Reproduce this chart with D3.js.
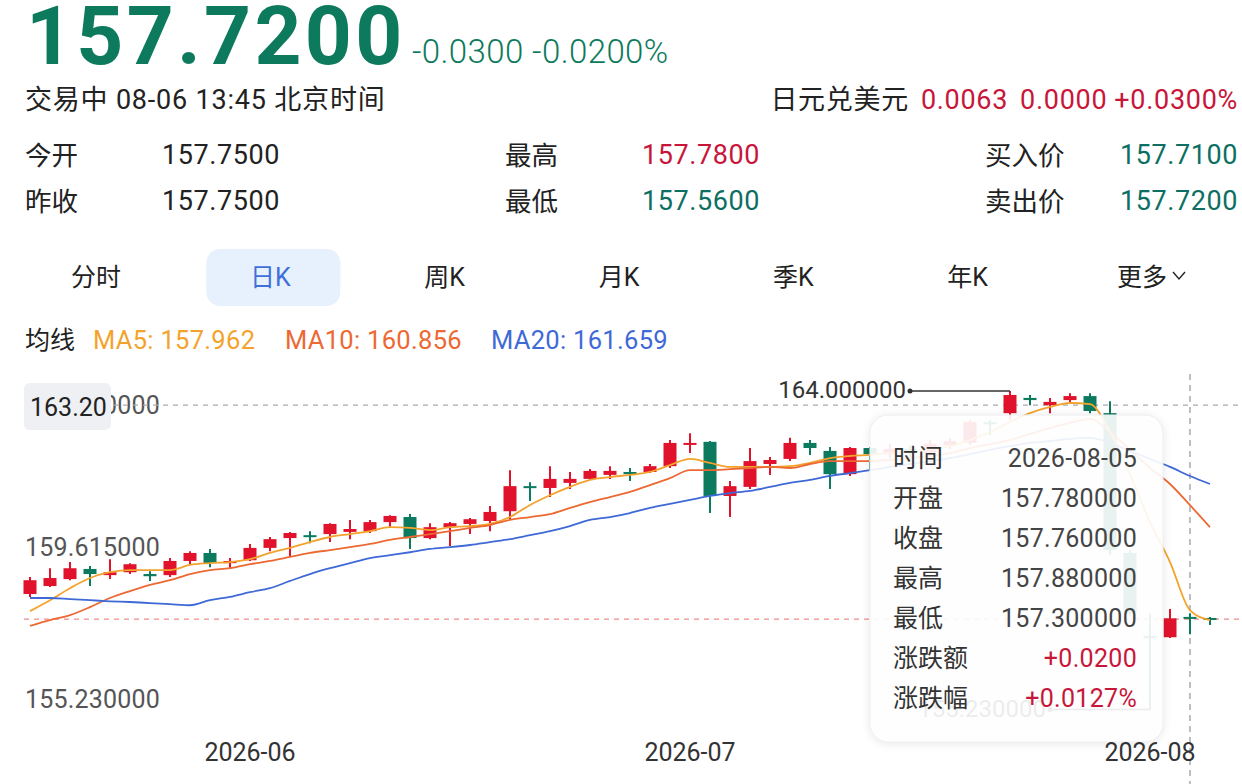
<!DOCTYPE html>
<html>
<head>
<meta charset="utf-8">
<script src="https://cdn.jsdelivr.net/npm/d3@7"></script>
<style>
  html, body { margin: 0; padding: 0; background: #fff; }
  svg text { font-family: Roboto, "Noto Sans CJK SC", sans-serif; }
</style>
</head>
<body>
<div id="chart"></div>
<script>
// daily candles
const dates = [
  "2026-05-15", "2026-05-18", "2026-05-19", "2026-05-20", "2026-05-21", "2026-05-22",
  "2026-05-25", "2026-05-26", "2026-05-27", "2026-05-28", "2026-05-29",
  "2026-06-01", "2026-06-02", "2026-06-03", "2026-06-04", "2026-06-05",
  "2026-06-08", "2026-06-09", "2026-06-10", "2026-06-11", "2026-06-12",
  "2026-06-15", "2026-06-16", "2026-06-17", "2026-06-18", "2026-06-19",
  "2026-06-22", "2026-06-23", "2026-06-24", "2026-06-25", "2026-06-26",
  "2026-06-29", "2026-06-30",
  "2026-07-01", "2026-07-02", "2026-07-03",
  "2026-07-06", "2026-07-07", "2026-07-08", "2026-07-09", "2026-07-10",
  "2026-07-13", "2026-07-14", "2026-07-15", "2026-07-16", "2026-07-17",
  "2026-07-20", "2026-07-21", "2026-07-22", "2026-07-23", "2026-07-24",
  "2026-07-27", "2026-07-28", "2026-07-29", "2026-07-30", "2026-07-31",
  "2026-08-03", "2026-08-04", "2026-08-05", "2026-08-06"
];
const opens = [
  158.41, 158.63, 158.82, 159.10, 158.93, 159.01, 158.96, 158.93, 159.32, 159.54,
  159.26, 159.34, 159.68, 159.95, 160.03, 160.06, 160.12, 160.14, 160.39, 160.53,
  159.95, 160.25, 160.34, 160.42, 160.69, 161.38, 161.33, 161.47, 161.58, 161.69,
  161.77, 161.77, 161.93, 162.54, 162.60, 161.11, 161.36, 161.99, 162.13, 162.57,
  162.35, 161.71, 162.43, 162.26, 162.40, 162.30, 162.50, 162.57, 163.14, 163.39,
  163.81, 163.61, 163.75, 163.86, 163.39, 159.54, 157.25, 157.22, 157.78, 157.75
];
const highs = [
  158.88, 159.12, 159.29, 159.18, 159.37, 159.26, 159.04, 159.40, 159.59, 159.65,
  159.40, 159.79, 159.98, 160.12, 160.14, 160.36, 160.45, 160.45, 160.58, 160.61,
  160.36, 160.39, 160.50, 160.83, 161.82, 161.49, 161.93, 161.77, 161.85, 161.93,
  161.88, 161.99, 162.65, 162.84, 162.62, 161.52, 162.43, 162.18, 162.71, 162.65,
  162.46, 162.46, 162.46, 162.55, 162.50, 162.65, 162.70, 163.20, 163.20, 164.00,
  163.89, 163.81, 163.94, 163.94, 163.72, 159.62, 157.88, 158.00, 157.88, 157.78
];
const lows = [
  158.33, 158.60, 158.79, 158.63, 158.82, 158.96, 158.77, 158.88, 159.23, 159.15,
  159.12, 159.32, 159.59, 159.43, 159.81, 159.84, 159.92, 160.09, 160.25, 159.65,
  159.92, 159.73, 160.06, 160.14, 160.47, 160.97, 161.08, 161.30, 161.55, 161.58,
  161.52, 161.74, 161.88, 162.29, 160.64, 160.53, 161.30, 161.69, 162.07, 162.24,
  161.30, 161.66, 161.82, 162.15, 162.10, 162.25, 162.40, 162.52, 162.79, 163.20,
  163.61, 163.39, 163.70, 163.39, 159.48, 157.82, 155.23, 157.20, 157.30, 157.56
];
const closes = [
  158.79, 158.85, 159.12, 158.96, 159.01, 159.23, 158.90, 159.32, 159.54, 159.26,
  159.32, 159.68, 159.92, 160.09, 159.98, 160.34, 160.20, 160.39, 160.56, 159.95,
  160.25, 160.36, 160.47, 160.67, 161.38, 161.33, 161.58, 161.58, 161.80, 161.80,
  161.71, 161.93, 162.57, 162.57, 161.11, 161.38, 162.07, 162.10, 162.57, 162.43,
  161.71, 162.43, 162.26, 162.40, 162.30, 162.55, 162.62, 163.15, 163.10, 163.89,
  163.75, 163.70, 163.86, 163.45, 159.62, 157.88, 157.20, 157.74, 157.76, 157.72
];

// moving averages as drawn in the picture
const ma5Values = [
  157.94, 158.24, 158.57, 158.85, 159.01, 159.07, 159.07, 159.07, 159.21, 159.26,
  159.29, 159.37, 159.54, 159.68, 159.84, 159.98, 160.06, 160.14, 160.25, 160.23,
  160.17, 160.25, 160.28, 160.34, 160.53, 160.86, 161.13, 161.36, 161.55, 161.63,
  161.69, 161.77, 161.96, 162.13, 162.02, 161.91, 161.91, 161.91, 161.93, 162.02,
  162.15, 162.21, 162.24, 162.29, 162.32, 162.40, 162.48, 162.65, 162.87, 163.15,
  163.39, 163.56, 163.67, 163.64, 162.87, 161.71, 160.39, 159.29, 157.962, 157.69
];
const ma10Values = [
  157.53, 157.69, 157.83, 158.05, 158.30, 158.49, 158.66, 158.79, 158.96, 159.07,
  159.12, 159.23, 159.32, 159.43, 159.54, 159.62, 159.70, 159.79, 159.90, 159.98,
  160.06, 160.14, 160.23, 160.31, 160.45, 160.53, 160.61, 160.78, 160.94, 161.08,
  161.22, 161.41, 161.60, 161.82, 161.82, 161.85, 161.88, 161.91, 161.88, 161.99,
  162.07, 162.07, 162.07, 162.10, 162.15, 162.21, 162.29, 162.43, 162.54, 162.65,
  162.82, 162.98, 163.12, 163.23, 162.87, 162.38, 161.88, 161.44, 160.856, 160.25
];
const ma20Values = [
  158.30, 158.30, 158.27, 158.24, 158.21, 158.19, 158.16, 158.13, 158.10, 158.24,
  158.33, 158.46, 158.57, 158.77, 158.96, 159.12, 159.26, 159.40, 159.48, 159.56,
  159.65, 159.70, 159.76, 159.84, 159.92, 160.03, 160.14, 160.28, 160.45, 160.53,
  160.64, 160.78, 160.89, 161.00, 161.11, 161.19, 161.25, 161.36, 161.47, 161.55,
  161.66, 161.74, 161.82, 161.91, 161.99, 162.07, 162.15, 162.26, 162.38, 162.48,
  162.57, 162.62, 162.68, 162.71, 162.57, 162.35, 162.13, 161.91, 161.659, 161.44
];

// quote header
const lastPrice = "157.7200";
const changeTexts = ["-0.0300", "-0.0200%"];
const statusText = "交易中 08-06 13:45 北京时间";
const inverseName = "日元兑美元";
const inverseTexts = ["0.0063", "0.0000", "+0.0300%"];
const quoteLabels = [["今开", "最高", "买入价"], ["昨收", "最低", "卖出价"]];
const quoteValues = [["157.7500", "157.7800", "157.7100"], ["157.7500", "157.5600", "157.7200"]];
const quoteTones = [["plain", "up", "down"], ["plain", "down", "down"]];

const tabNames = ["分时", "日K", "周K", "月K", "季K", "年K", "更多"];
const activeTab = "日K";

const maNames = ["MA5", "MA10", "MA20"];
const yTickValues = [164, 159.615, 155.23];
const monthTicks = ["2026-06-01", "2026-07-01", "2026-08-03"];
const monthLabels = ["2026-06", "2026-07", "2026-08"];

// crosshair as captured in the screenshot
const crosshairDate = "2026-08-05";
const crosshairPrice = 163.61;
const crosshairLabel = "163.20";
const tooltipLabels = ["时间", "开盘", "收盘", "最高", "最低", "涨跌额", "涨跌幅"];

const candles = dates.map((d, i) => ({
  date: d, open: opens[i], high: highs[i], low: lows[i], close: closes[i],
  ma5: ma5Values[i], ma10: ma10Values[i], ma20: ma20Values[i]
}));

class KLineChart {
  constructor(_config, _data) {
    this.config = {
      parentElement: _config.parentElement,
      width: _config.width || 1242,
      height: _config.height || 784,
      plot: _config.plot || { left: 20, right: 1220, top: 391, bottom: 709.5 },
    };
    this.data = _data;
    this.colors = {
      up: "#e0122c", down: "#0b7a5e", upText: "#c8163a", downText: "#0d6f63",
      ma: { MA5: "#f3a32c", MA10: "#ec6933", MA20: "#3f69d6" },
      text: "#222", axis: "#555",
    };
    this.initVis();
  }

  initVis() {
    let vis = this;
    const p = vis.config.plot;

    vis.svg = d3.select(vis.config.parentElement)
      .append("svg")
      .attr("width", vis.config.width)
      .attr("height", vis.config.height);

    const defs = vis.svg.append("defs");
    const shadow = defs.append("filter").attr("id", "tipShadow")
      .attr("x", "-10%").attr("y", "-10%").attr("width", "120%").attr("height", "120%");
    shadow.append("feDropShadow").attr("dx", 0).attr("dy", 1).attr("stdDeviation", 4)
      .attr("flood-color", "#000").attr("flood-opacity", 0.10);

    vis.xScale = d3.scaleBand()
      .domain(vis.data.map((d) => d.date))
      .range([p.left, p.right])
      .paddingInner(0.35)
      .paddingOuter(0.175);
    vis.yScale = d3.scaleLinear().domain([155.23, 164]).range([p.bottom, p.top]);
    vis.xMid = (d) => vis.xScale(d) + vis.xScale.bandwidth() / 2;

    vis.header = vis.svg.append("g");
    vis.chart = vis.svg.append("g");
    vis.overlay = vis.svg.append("g");

    vis.renderHeader();
    vis.updateVis();
  }

  renderHeader() {
    let vis = this;
    const g = vis.header;
    const c = vis.colors;

    g.append("text").attr("x", 26).attr("y", 64)
      .attr("font-size", 82).attr("font-weight", 700).attr("letter-spacing", 3.3)
      .attr("fill", "#0d7a5d")
      .text(lastPrice);
    g.append("text").attr("x", 412).attr("y", 63)
      .attr("font-size", 33).attr("font-weight", 300).attr("letter-spacing", 0.4)
      .attr("fill", "#0d7a5d")
      .text(changeTexts.join(" "));

    g.append("text").attr("x", 25).attr("y", 100).attr("dominant-baseline", "central")
      .attr("font-size", 27).attr("letter-spacing", 0.8).attr("fill", c.text).text(statusText);

    const inv = g.append("text").attr("x", 1238).attr("y", 100)
      .attr("text-anchor", "end").attr("dominant-baseline", "central")
      .attr("font-size", 27).attr("letter-spacing", 0.7);
    inv.append("tspan").attr("fill", c.text).text(inverseName);
    inverseTexts.forEach((t, i) => {
      inv.append("tspan").attr("dx", i === 2 ? 7 : 12).attr("fill", c.upText).text(t);
    });

    const labelX = [25, 505, 985];
    const valueX = [162, 642, 1120];
    const rowY = [155, 201];
    quoteLabels.forEach((row, r) => {
      row.forEach((lab, k) => {
        g.append("text").attr("x", labelX[k]).attr("y", rowY[r]).attr("dominant-baseline", "central")
          .attr("font-size", 26.5).attr("fill", c.text).text(lab);
        const tone = quoteTones[r][k];
        g.append("text").attr("x", valueX[k]).attr("y", rowY[r]).attr("dominant-baseline", "central")
          .attr("font-size", 27).attr("letter-spacing", 0.6)
          .attr("fill", tone === "up" ? c.upText : tone === "down" ? c.downText : c.text)
          .text(quoteValues[r][k]);
      });
    });

    // period tabs
    const tabX = d3.scalePoint().domain(tabNames).range([96, 1142]);
    g.append("rect").attr("x", tabX(activeTab) - 64).attr("y", 249)
      .attr("width", 134).attr("height", 57).attr("rx", 14).attr("fill", "#e7f0fd");
    g.selectAll(".tab").data(tabNames).join("text")
      .attr("class", "tab")
      .attr("x", (d) => tabX(d)).attr("y", 277)
      .attr("text-anchor", "middle").attr("dominant-baseline", "central")
      .attr("font-size", 25)
      .attr("fill", (d) => (d === activeTab ? "#3f6fd8" : c.text))
      .text((d) => d);
    const lastX = tabX(tabNames[tabNames.length - 1]);
    g.append("path")
      .attr("d", `M${lastX + 31},${272} L${lastX + 37},${279} L${lastX + 43},${272}`)
      .attr("fill", "none").attr("stroke", c.text).attr("stroke-width", 1.4);

    // moving-average legend
    const last = vis.data.find((d) => d.date === crosshairDate);
    const legendX = [93, 285, 491];
    g.append("text").attr("x", 25).attr("y", 340).attr("dominant-baseline", "central")
      .attr("font-size", 25).attr("fill", c.text).text("均线");
    maNames.forEach((m, i) => {
      const key = m.toLowerCase();
      g.append("text").attr("x", legendX[i]).attr("y", 340).attr("dominant-baseline", "central")
        .attr("font-size", 25.5).attr("letter-spacing", 0.3).attr("fill", c.ma[m])
        .text(`${m}: ${d3.format(".3f")(last[key])}`);
    });
  }

  updateVis() {
    let vis = this;
    const c = vis.colors;
    const y = vis.yScale;
    const fmt6 = d3.format(".6f");

    // y labels
    vis.chart.selectAll(".ylab").data(yTickValues).join("text")
      .attr("class", "ylab")
      .attr("x", 25)
      .attr("y", (d, i) => (i === 0 ? y(d) + 5 : i === 1 ? y(d) - 3 : y(d) - 2))
      .attr("dominant-baseline", (d, i) => (i === 0 ? "hanging" : i === 1 ? "central" : "auto"))
      .attr("font-size", 25).attr("letter-spacing", 0.2).attr("fill", c.axis)
      .text((d) => fmt6(d));

    // last price line
    const lastClose = vis.data[vis.data.length - 1].close;
    vis.chart.append("line")
      .attr("x1", 24).attr("x2", vis.config.width)
      .attr("y1", y(lastClose)).attr("y2", y(lastClose))
      .attr("stroke", "#f08c8c").attr("stroke-width", 1.3).attr("stroke-dasharray", "5,5");

    // crosshair
    const cx = vis.xMid(crosshairDate);
    vis.chart.append("line")
      .attr("x1", 113).attr("x2", vis.config.width)
      .attr("y1", y(crosshairPrice)).attr("y2", y(crosshairPrice))
      .attr("stroke", "#a9a9b0").attr("stroke-width", 1.3).attr("stroke-dasharray", "5,5");
    vis.chart.append("line")
      .attr("x1", cx).attr("x2", cx)
      .attr("y1", 374).attr("y2", vis.config.height)
      .attr("stroke", "#a9a9b0").attr("stroke-width", 1.5).attr("stroke-dasharray", "6,5");

    // candles
    const bw = vis.xScale.bandwidth();
    const candle = vis.chart.selectAll(".candle").data(vis.data).join("g").attr("class", "candle");
    candle.append("line")
      .attr("x1", (d) => vis.xMid(d.date)).attr("x2", (d) => vis.xMid(d.date))
      .attr("y1", (d) => y(d.high)).attr("y2", (d) => y(d.low))
      .attr("stroke", (d) => (d.close >= d.open ? c.up : c.down)).attr("stroke-width", 2);
    candle.append("rect")
      .attr("x", (d) => vis.xScale(d.date))
      .attr("width", bw)
      .attr("y", (d) => y(Math.max(d.open, d.close)))
      .attr("height", (d) => Math.max(2, Math.abs(y(d.open) - y(d.close))))
      .attr("fill", (d) => (d.close >= d.open ? c.up : c.down));

    // moving averages
    maNames.forEach((m) => {
      const key = m.toLowerCase();
      vis.chart.append("path")
        .datum(vis.data)
        .attr("fill", "none")
        .attr("stroke", c.ma[m])
        .attr("stroke-width", 1.8)
        .attr("d", d3.line().curve(d3.curveMonotoneX)
          .x((d) => vis.xMid(d.date)).y((d) => y(d[key])));
    });

    // max / min markers
    const maxD = vis.data[d3.maxIndex(vis.data, (d) => d.high)];
    const minD = vis.data[d3.minIndex(vis.data, (d) => d.low)];
    [[maxD, maxD.high], [minD, minD.low]].forEach(([d, v]) => {
      const x1 = vis.xMid(d.date);
      const x0 = x1 - 100;
      vis.chart.append("line").attr("x1", x0).attr("x2", x1).attr("y1", y(v)).attr("y2", y(v))
        .attr("stroke", "#333").attr("stroke-width", 1.3);
      vis.chart.append("circle").attr("cx", x0).attr("cy", y(v)).attr("r", 2.5).attr("fill", "#333");
      vis.chart.append("text").attr("x", x0 - 4).attr("y", y(v) - 1)
        .attr("text-anchor", "end").attr("dominant-baseline", "central")
        .attr("font-size", 24).attr("fill", "#333").text(fmt6(v));
    });

    // crosshair price tag
    vis.overlay.append("rect").attr("x", 24).attr("y", 383).attr("width", 87).attr("height", 47)
      .attr("rx", 6).attr("fill", "#eef0f3");
    vis.overlay.append("text").attr("x", 30).attr("y", 407).attr("dominant-baseline", "central")
      .attr("font-size", 25).attr("fill", c.text).text(crosshairLabel);

    // tooltip panel
    const idx = vis.data.findIndex((d) => d.date === crosshairDate);
    const cur = vis.data[idx];
    const prev = vis.data[idx - 1];
    const diff = cur.close - prev.close;
    const tipValues = [
      cur.date, fmt6(cur.open), fmt6(cur.close), fmt6(cur.high), fmt6(cur.low),
      d3.format("+.4f")(diff), d3.format("+.4f")((diff / prev.close) * 100) + "%",
    ];
    const tip = vis.overlay.append("g");
    tip.append("rect").attr("x", 870).attr("y", 415).attr("width", 293).attr("height", 327)
      .attr("rx", 18).attr("fill", "#fff").attr("fill-opacity", 0.9)
      .attr("stroke", "#ececf0").attr("filter", "url(#tipShadow)");
    tooltipLabels.forEach((lab, i) => {
      const ty = 458 + i * 40;
      tip.append("text").attr("x", 893).attr("y", ty).attr("dominant-baseline", "central")
        .attr("font-size", 25).attr("fill", "#333").text(lab);
      tip.append("text").attr("x", 1137).attr("y", ty).attr("text-anchor", "end")
        .attr("dominant-baseline", "central").attr("font-size", 25).attr("letter-spacing", 0.3)
        .attr("fill", i >= 5 ? (diff >= 0 ? c.upText : c.downText) : "#444")
        .text(tipValues[i]);
    });

    // month labels
    vis.overlay.selectAll(".xlab").data(monthTicks).join("text")
      .attr("class", "xlab")
      .attr("x", (d) => vis.xMid(d)).attr("y", 752)
      .attr("text-anchor", "middle").attr("dominant-baseline", "central")
      .attr("font-size", 25).attr("fill", "#333")
      .text((d, i) => monthLabels[i]);
  }
}

new KLineChart({ parentElement: "#chart" }, candles);
</script>
</body>
</html>
